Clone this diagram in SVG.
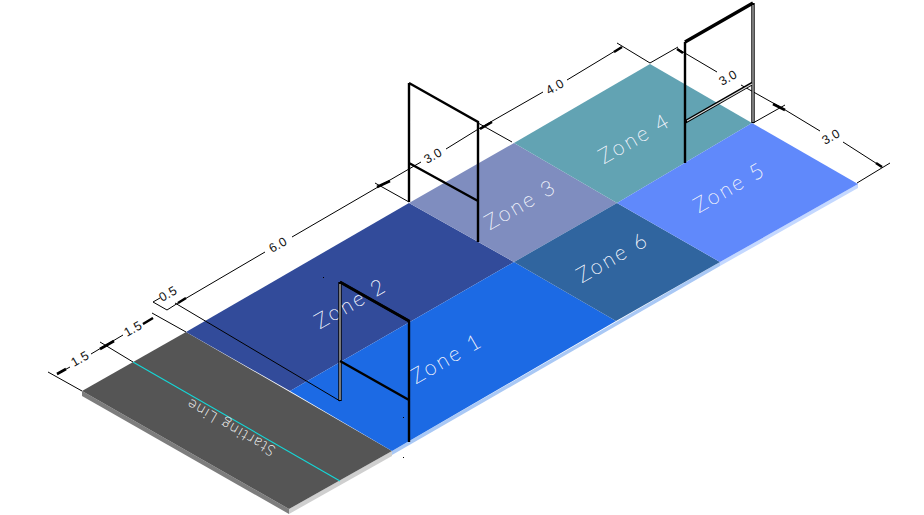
<svg xmlns="http://www.w3.org/2000/svg" width="924" height="515" viewBox="0 0 924 515">
<style>
.dim{stroke:#000;stroke-width:1;fill:none}
.arr{stroke:#000;stroke-width:2.6;fill:none}
.dt{font-family:"Liberation Sans",Arial,sans-serif;font-size:12.5px;fill:#111;text-anchor:middle;dominant-baseline:central;letter-spacing:.4px}
.zt{font-family:Lato,Inter,"Noto Sans",sans-serif;font-weight:100;font-size:21px;fill:#eef1fa;stroke:#eef1fa;stroke-width:.45;text-anchor:middle;dominant-baseline:central;letter-spacing:2.6px}
.st{font-family:Lato,Inter,"Noto Sans",sans-serif;font-weight:100;font-size:15px;fill:#eee;stroke:#eee;stroke-width:.4;text-anchor:middle;dominant-baseline:central;letter-spacing:1.6px}
.post{stroke:#000;stroke-width:2.4;fill:none}
.dbl{stroke:#000;stroke-width:3.4;fill:none}
.dbli{stroke:#ddd;stroke-width:1.1;fill:none}
</style>
<rect width="924" height="515" fill="#fff"/>
<g id="plate-sides">
<polygon points="82,391 289,509 289,514 82,396" fill="#7d7d7d"/>
<polygon points="289,509 392,451 392,456 289,514" fill="#cfcfcf"/>
<polygon points="392,451 720,262 720,266 392,455" fill="#a9c8f5"/>
<polygon points="720,262 858,184 858,188 720,266" fill="#c4d8ff"/>
</g>
<g id="start-zone"><polygon points="82,391 186,332 392,451 289,509" fill="#555"/><line x1="133" y1="362" x2="340" y2="481" stroke="#14d8d8" stroke-width="1.1"/><text class="st" transform="translate(230,428) rotate(210)">Starting Line</text></g>
<g id="zone-2"><polygon points="186,332 409,203 514,262 290,391" fill="#324b9a"/><text class="zt" transform="translate(350,302) rotate(-30)">Zone 2</text></g>
<g id="zone-1"><polygon points="290,391 514,262 616,321 392,451" fill="#1c6ae4"/><text class="zt" transform="translate(446,357) rotate(-30)">Zone 1</text></g>
<g id="zone-3"><polygon points="409,203 514,143 617,203 514,262" fill="#7f8dbf"/><text class="zt" transform="translate(520,203) rotate(-30)">Zone 3</text></g>
<g id="zone-6"><polygon points="514,262 617,203 720,262 616,321" fill="#30659f"/><text class="zt" transform="translate(612,256) rotate(-30)">Zone 6</text></g>
<g id="zone-4"><polygon points="514,143 650,64 752,123 617,203" fill="#62a3b3"/><text class="zt" transform="translate(634,137) rotate(-30)">Zone 4</text></g>
<g id="zone-5"><polygon points="617,203 752,123 858,184 720,262" fill="#6089fb"/><text class="zt" transform="translate(729,186) rotate(-30)">Zone 5</text></g>
<g id="connectors">
<path class="dim" d="M48,372L82,391M100,342L133,362M152,313L186,332M153,302L167,310M153,302L160,298M175,303L340,401M375,183L409,202M478,123L512,142M617,43L650,63M650,63L678,47M753,123L785,105M857,183L890,163"/>
<path class="dim" d="M57,374L70,367M91,354L123,335M143,324L153,318M167,310L178,303M178,303L265,252M292,237L378,187M378,187L421,162M446,149L480,128M480,128L543,92M567,80L620,48M678,49L717,72M741,85L782,108M782,108L820,131M843,142L882,167"/>
<path class="arr" d="M57,374L66,369M100,349L114,341M143,324L153,318M178,303L186,298M377,187L390,181M480,129L492,122M614,52L622,47M677,49L683,53M773,104L785,110M876,163L882,167"/>
<text class="dt" transform="translate(80,359) rotate(-30)">1.5</text>
<text class="dt" transform="translate(133,329) rotate(-30)">1.5</text>
<text class="dt" transform="translate(168,294) rotate(-30)">0.5</text>
<text class="dt" transform="translate(278,245) rotate(-30)">6.0</text>
<text class="dt" transform="translate(433,156) rotate(-30)">3.0</text>
<text class="dt" transform="translate(555,87) rotate(-30)">4.0</text>
<text class="dt" transform="translate(728,78) rotate(-30)">3.0</text>
<text class="dt" transform="translate(831,137) rotate(-30)">3.0</text>
</g>
<g id="gate-1">
<path class="dbl" d="M340,282V401"/><path class="dbli" d="M340,284V400"/>
<path class="post" d="M340,282L409,321V442M340,361L409,400"/>
<path d="M340,282L409,321" stroke="#000" stroke-width="3" fill="none"/>
</g>
<g id="gate-2"><path class="post" d="M409,83V202M409,83L478,122V242M409,163L478,201"/></g>
<g id="gate-3">
<path class="post" d="M685,42V163"/>
<path class="dbl" d="M753,3V123M685,42L753,3M685,122L753,83"/>
<path class="dbli" d="M753,5V122M687,121L752,84"/>
</g>
<g id="specks" fill="#000"><rect x="323" y="277" width="1" height="1"/><rect x="403" y="417" width="1" height="1"/><rect x="403" y="457" width="1" height="1"/></g>
</svg>
